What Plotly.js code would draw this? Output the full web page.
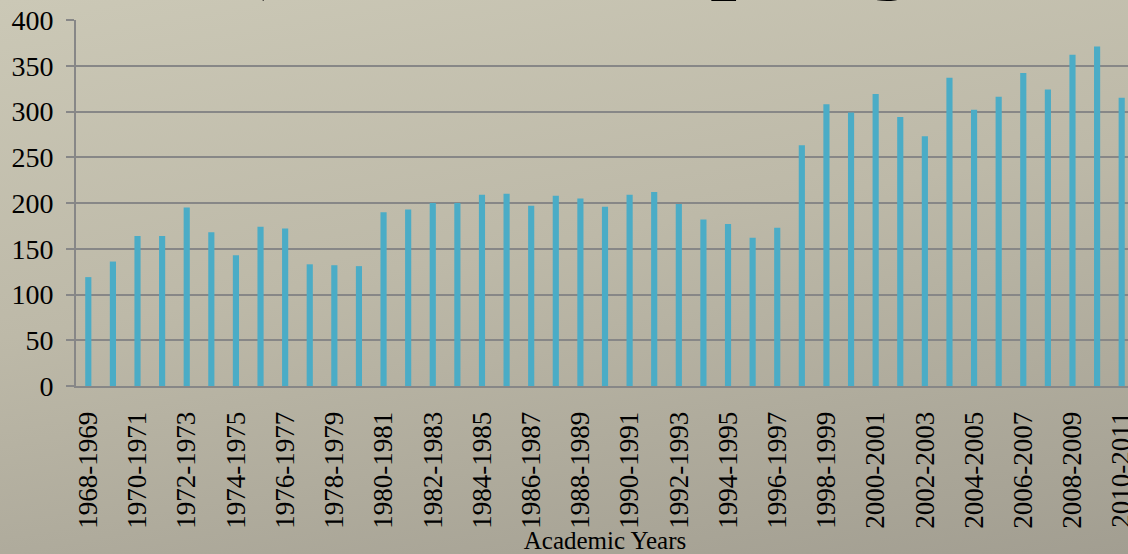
<!DOCTYPE html>
<html>
<head>
<meta charset="utf-8">
<script src="https://cdn.plot.ly/plotly-3.0.1.min.js"></script>
<style>
  html, body { margin: 0; padding: 0; width: 1128px; height: 554px; overflow: hidden; }
  body { background: linear-gradient(170deg, #CBC8B6 0%, #BDB9A8 45%, #A29E91 100%); }
  #chart { width: 1140px; height: 554px; }
</style>
</head>
<body>
<div id="chart"></div>
<script>
// Academic years (categories)
const years = [
  "1968-1969","1969-1970","1970-1971","1971-1972","1972-1973","1973-1974","1974-1975",
  "1975-1976","1976-1977","1977-1978","1978-1979","1979-1980","1980-1981","1981-1982",
  "1982-1983","1983-1984","1984-1985","1985-1986","1986-1987","1987-1988","1988-1989",
  "1989-1990","1990-1991","1991-1992","1992-1993","1993-1994","1994-1995","1995-1996",
  "1996-1997","1997-1998","1998-1999","1999-2000","2000-2001","2001-2002","2002-2003",
  "2003-2004","2004-2005","2005-2006","2006-2007","2007-2008","2008-2009","2009-2010",
  "2010-2011"
];
// Values
const counts = [
  119,136,164,164,195,168,143,
  174,172,133,132,131,190,193,
  200,200,209,210,197,208,205,
  196,209,212,199,182,177,162,
  173,263,308,299,319,294,273,
  337,302,316,342,324,362,371,
  315
];
// Every other year is labelled on the axis
const tickYears = years.filter((y, i) => i % 2 === 0);
const yTicks = [0, 50, 100, 150, 200, 250, 300, 350, 400];
const xTitle = "Academic Years";
const slideTitle = "Enrollment (Graduate programme)";

const gray = "#878787";
const serif = "Liberation Serif, Times New Roman, serif";

const data = [{
  type: "bar",
  x: years,
  y: counts,
  width: 0.25,
  marker: { color: "#4BACC6", line: { width: 0 } },
  hoverinfo: "x+y"
}];

const layout = {
  width: 1140,
  height: 554,
  margin: { l: 76, r: 6, t: 20, b: 168 },
  paper_bgcolor: "rgba(0,0,0,0)",
  plot_bgcolor: "rgba(0,0,0,0)",
  showlegend: false,
  font: { family: serif, color: "#000" },
  xaxis: {
    type: "category",
    categoryorder: "array",
    categoryarray: years,
    range: [-0.5, years.length - 0.5],
    tickmode: "array",
    tickvals: tickYears,
    ticktext: tickYears,
    tickangle: -90,
    tickfont: { family: serif, size: 27, color: "#000" },
    ticks: "",
    ticklabelstandoff: 13,
    showline: true,
    linecolor: gray,
    linewidth: 2,
    showgrid: false,
    zeroline: false,
    title: { text: xTitle, font: { family: serif, size: 25, color: "#000" }, standoff: 4 }
  },
  yaxis: {
    range: [0, 400],
    tickmode: "array",
    tickvals: yTicks,
    ticktext: yTicks.map(String),
    tickfont: { family: serif, size: 28, color: "#000" },
    ticks: "outside",
    ticklen: 8,
    tickwidth: 2,
    tickcolor: gray,
    ticklabelstandoff: 7,
    showline: true,
    linecolor: gray,
    linewidth: 2,
    showgrid: true,
    gridcolor: gray,
    gridwidth: 2,
    zeroline: false
  },
  annotations: [{
    text: slideTitle,
    xref: "paper", yref: "paper",
    x: (-309 - 76) / 1058, y: 1 + (20 - 3) / 366,
    xanchor: "left", yanchor: "bottom",
    showarrow: false,
    font: { family: serif, size: 113, color: "#000" }
  }]
};

Plotly.newPlot("chart", data, layout, { displayModeBar: false, staticPlot: true });
</script>
</body>
</html>
